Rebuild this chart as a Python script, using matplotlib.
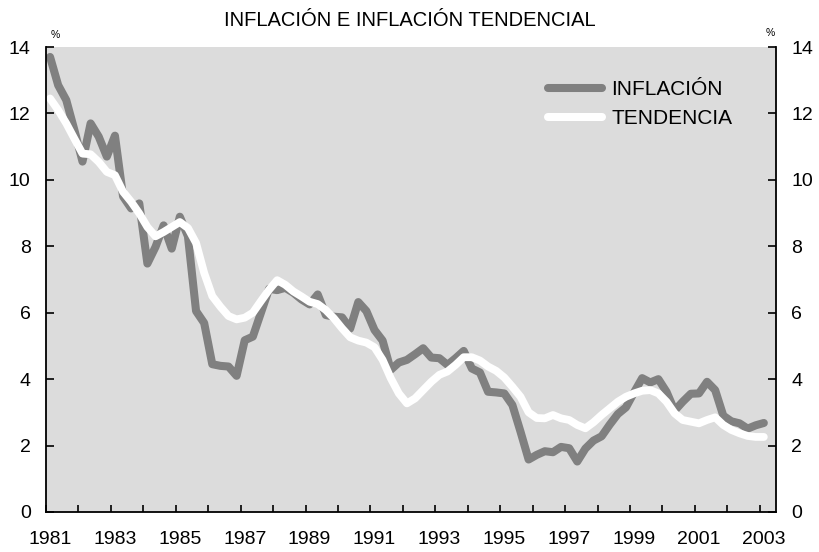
import matplotlib
matplotlib.use("Agg")
import matplotlib.pyplot as plt
import numpy as np

plt.rcParams['font.family'] = ['Liberation Sans', 'DejaVu Sans']

title = "INFLACIÓN E INFLACIÓN TENDENCIAL"
start_year = 1981
label_years = list(range(1981, 2004, 2))
y_ticks = list(range(0, 15, 2))

inflacion = [13.7, 12.85, 12.4, 11.5, 10.55, 11.7, 11.3, 10.7, 11.33, 9.5,
             9.14, 9.29, 7.48, 7.98, 8.63, 7.93, 8.89, 8.3, 6.05, 5.69,
             4.45, 4.4, 4.38, 4.1, 5.17, 5.28, 6.0, 6.72, 6.68, 6.75,
             6.6, 6.4, 6.25, 6.55, 5.93, 5.88, 5.86, 5.52, 6.32, 6.05,
             5.48, 5.16, 4.28, 4.5, 4.58, 4.75, 4.93, 4.65, 4.63, 4.43,
             4.63, 4.85, 4.32, 4.2, 3.62, 3.6, 3.57, 3.22, 2.42, 1.58,
             1.72, 1.83, 1.8, 1.96, 1.92, 1.52, 1.91, 2.15, 2.28, 2.63,
             2.95, 3.15, 3.6, 4.03, 3.9, 4.0, 3.62, 3.05, 3.32, 3.56,
             3.57, 3.92, 3.67, 2.9, 2.73, 2.67, 2.51, 2.61, 2.68]

tendencia = [12.45, 12.1, 11.7, 11.24, 10.79, 10.77, 10.54, 10.24, 10.14, 9.64,
             9.34, 8.99, 8.58, 8.3, 8.43, 8.58, 8.73, 8.55, 8.1, 7.2,
             6.5, 6.18, 5.9, 5.8, 5.85, 6.0, 6.35, 6.69, 6.98, 6.84,
             6.64, 6.49, 6.33, 6.26, 6.08, 5.83, 5.53, 5.26, 5.16, 5.1,
             4.96, 4.58, 4.03, 3.57, 3.27, 3.42, 3.67, 3.92, 4.13, 4.23,
             4.43, 4.66, 4.66, 4.56, 4.38, 4.25, 4.05, 3.77, 3.47, 3.0,
             2.83, 2.82, 2.92, 2.82, 2.77, 2.62, 2.52, 2.7, 2.92, 3.12,
             3.32, 3.47, 3.57, 3.65, 3.67, 3.57, 3.32, 2.97, 2.77, 2.72,
             2.67, 2.77, 2.85, 2.62, 2.47, 2.37, 2.29, 2.26, 2.26]

# quarterly positions, centred in each quarter
x = start_year + 0.125 + np.arange(len(inflacion)) / 4.0

fig = plt.figure(figsize=(8.2, 5.52), dpi=100)
ax = fig.add_axes([46/820, 1-512/552, 730/820, 465/552])
ax.set_facecolor('#DCDCDC')

ax.plot(x, inflacion, color='#808080', lw=5.8, solid_capstyle='round',
        solid_joinstyle='round', label='INFLACIÓN')
ax.plot(x, tendencia, color='white', lw=5.6, solid_capstyle='round',
        solid_joinstyle='round', label='TENDENCIA')

ax.set_xlim(1981, 2003.5)
ax.set_ylim(0, 14)

# year ticks (marks only)
ax.set_xticks(np.arange(1981, 2004))
ax.set_xticklabels([])
ax.tick_params(axis='x', which='major', direction='in', length=5, width=1.2)
# labels under the first quarter of odd years
ax.set_xticks([yr + 0.125 for yr in label_years], minor=True)
ax.set_xticklabels([str(yr) for yr in label_years], minor=True, fontsize=14)
ax.tick_params(axis='x', which='minor', length=0, pad=14)

ax.set_yticks(y_ticks)
ax.set_yticklabels([str(v) for v in y_ticks])
ax.tick_params(axis='y', direction='in', length=6, width=1.2, labelsize=14,
               left=True, right=True, labelleft=True, labelright=True, pad=11)

for s in ['left', 'right', 'bottom']:
    ax.spines[s].set_linewidth(1.3)
    ax.spines[s].set_color('black')
ax.spines['top'].set_visible(False)

fig.text(0.5, 1-20/552, title, ha='center', va='center', fontsize=14.5)
fig.text(55/820, 1-35/552, '%', ha='center', va='center', fontsize=7.5)
fig.text(770/820, 1-33/552, '%', ha='center', va='center', fontsize=7.5)

leg = ax.legend(loc='upper left', bbox_to_anchor=((548-46)/730, (512-80)/465),
                frameon=False, fontsize=15, handlelength=2.6, handletextpad=0.45,
                labelspacing=0.5, borderpad=0, borderaxespad=0)
for h in leg.get_lines():
    h.set_linewidth(5.8)
    h.set_solid_capstyle('round')

fig.savefig('out.png', dpi=100)
